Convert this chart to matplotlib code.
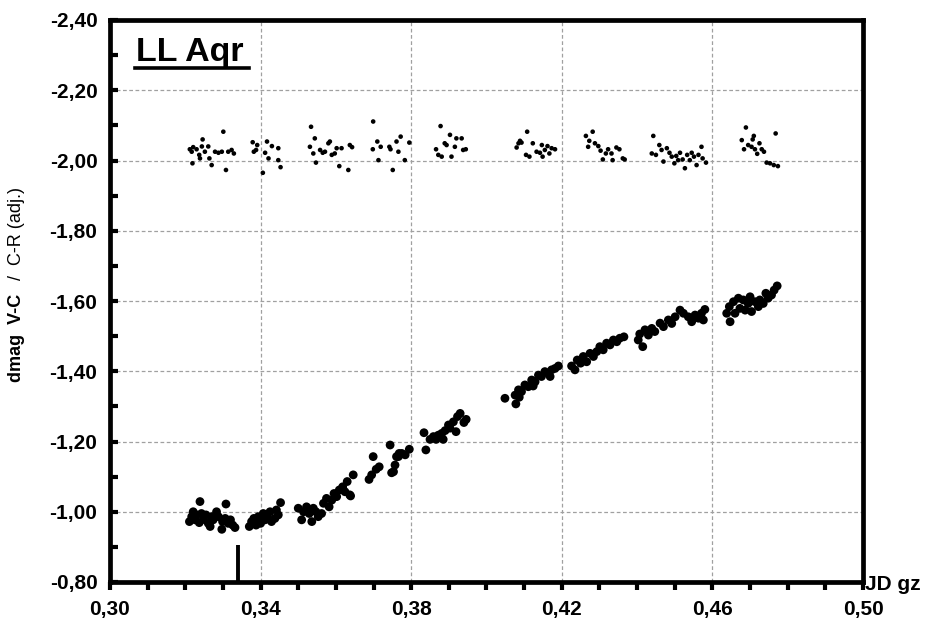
import matplotlib
matplotlib.use("Agg")
import matplotlib.pyplot as plt
from matplotlib.ticker import MultipleLocator, FixedLocator, FuncFormatter
from matplotlib.lines import Line2D

# V-C (large dots)
vc_x = [0.3239, 0.3211, 0.3217, 0.3221, 0.3226, 0.3230, 0.3237, 0.3243, 0.3248, 0.3255,
        0.3261, 0.3266, 0.3270, 0.3274, 0.3283, 0.3288, 0.3297, 0.3299, 0.3308, 0.3306,
        0.3314, 0.3320, 0.3326, 0.3332,
        0.3370, 0.3376, 0.3382, 0.3388, 0.3394, 0.3400, 0.3407, 0.3412, 0.3418, 0.3425,
        0.3429, 0.3438, 0.3442, 0.3447, 0.3453,
        0.3500, 0.3509, 0.3514, 0.3522, 0.3529, 0.3536, 0.3540, 0.3547, 0.3553, 0.3562,
        0.3567, 0.3575, 0.3582, 0.3589, 0.3595, 0.3602, 0.3609, 0.3618, 0.3624, 0.3630,
        0.3637, 0.3639, 0.3646,
        0.3688, 0.3695, 0.3699, 0.3707, 0.3715, 0.3744, 0.3748, 0.3753, 0.3757, 0.3761,
        0.3766, 0.3768, 0.3775, 0.3784, 0.3795,
        0.3834, 0.3839, 0.3850, 0.3859, 0.3866, 0.3872, 0.3881, 0.3885, 0.3890, 0.3899,
        0.3903, 0.3912, 0.3919, 0.3923, 0.3930, 0.3940, 0.3946,
        0.4049, 0.4078, 0.4076, 0.4085, 0.4087, 0.4093, 0.4102, 0.4111, 0.4120, 0.4124,
        0.4129, 0.4138, 0.4146, 0.4155, 0.4164, 0.4169, 0.4173, 0.4182, 0.4191,
        0.4226, 0.4235, 0.4241, 0.4250, 0.4257, 0.4266, 0.4275, 0.4284, 0.4293, 0.4301,
        0.4310, 0.4319, 0.4328, 0.4337, 0.4346, 0.4354, 0.4365,
        0.4403, 0.4407, 0.4415, 0.4421, 0.4430, 0.4439, 0.4447, 0.4461, 0.4470, 0.4483,
        0.4492, 0.4501, 0.4514, 0.4523, 0.4536, 0.4545, 0.4554, 0.4563, 0.4571, 0.4576,
        0.4580,
        0.4638, 0.4647, 0.4645, 0.4656, 0.4660, 0.4669, 0.4673, 0.4682, 0.4687, 0.4695,
        0.4700, 0.4704, 0.4713, 0.4722, 0.4726, 0.4735, 0.4742, 0.4748, 0.4757, 0.4764,
        0.4772]
vc_y = [-1.029, -0.972, -0.986, -1.000, -0.977, -0.991, -0.969, -0.995, -0.978, -0.991,
        -0.967, -0.958, -0.986, -0.977, -1.000, -0.986, -0.950, -0.972, -1.022, -0.981,
        -0.967, -0.977, -0.962, -0.955,
        -0.958, -0.972, -0.981, -0.962, -0.986, -0.967, -0.995, -0.977, -0.986, -1.000,
        -0.972, -0.981, -1.005, -0.991, -1.026,
        -1.010, -0.977, -1.000, -1.014, -0.995, -0.972, -1.010, -1.000, -0.986, -0.995,
        -1.024, -1.038, -1.014, -1.033, -1.052, -1.043, -1.062, -1.071, -1.057, -1.086,
        -1.048, -1.045, -1.105,
        -1.092, -1.105, -1.157, -1.121, -1.128, -1.190, -1.111, -1.114, -1.133, -1.157,
        -1.157, -1.166, -1.166, -1.162, -1.178,
        -1.225, -1.176, -1.206, -1.214, -1.206, -1.218, -1.223, -1.206, -1.231, -1.247,
        -1.238, -1.256, -1.228, -1.271, -1.280, -1.254, -1.263,
        -1.323, -1.307, -1.332, -1.347, -1.326, -1.342, -1.361, -1.356, -1.375, -1.358,
        -1.370, -1.389, -1.385, -1.399, -1.394, -1.385, -1.404, -1.408, -1.415,
        -1.415, -1.404, -1.432, -1.423, -1.442, -1.427, -1.451, -1.442, -1.456, -1.470,
        -1.461, -1.480, -1.475, -1.489, -1.484, -1.494, -1.498,
        -1.489, -1.506, -1.470, -1.518, -1.503, -1.522, -1.513, -1.537, -1.527, -1.546,
        -1.536, -1.555, -1.574, -1.565, -1.555, -1.541, -1.560, -1.551, -1.565, -1.546,
        -1.576,
        -1.565, -1.541, -1.584, -1.598, -1.565, -1.608, -1.579, -1.603, -1.574, -1.593,
        -1.612, -1.570, -1.598, -1.584, -1.603, -1.593, -1.622, -1.608, -1.617, -1.631,
        -1.643]

# C-R (small dots)
cr_x = [0.3212, 0.3217, 0.3221, 0.3219, 0.3230, 0.3237, 0.3239, 0.3244, 0.3246, 0.3252,
        0.3261, 0.3264, 0.3270, 0.3279, 0.3288, 0.3297, 0.3301, 0.3308, 0.3314, 0.3323,
        0.3329,
        0.3379, 0.3382, 0.3388, 0.3391, 0.3406, 0.3412, 0.3417, 0.3421, 0.3430, 0.3447,
        0.3447, 0.3453,
        0.3534, 0.3531, 0.3540, 0.3544, 0.3547, 0.3558, 0.3565, 0.3571, 0.3580, 0.3584,
        0.3589, 0.3597, 0.3602, 0.3609, 0.3615, 0.3633, 0.3637, 0.3643,
        0.3699, 0.3698, 0.3710, 0.3713, 0.3719, 0.3742, 0.3745, 0.3751, 0.3761, 0.3766,
        0.3772, 0.3783, 0.3795,
        0.3878, 0.3866, 0.3872, 0.3881, 0.3889, 0.3894, 0.3903, 0.3907, 0.3916, 0.3920,
        0.3934, 0.3938, 0.3945,
        0.4080, 0.4085, 0.4089, 0.4093, 0.4108, 0.4105, 0.4114, 0.4123, 0.4133, 0.4142,
        0.4147, 0.4149, 0.4155, 0.4162, 0.4167, 0.4173, 0.4182,
        0.4264, 0.4282, 0.4273, 0.4270, 0.4288, 0.4297, 0.4303, 0.4309, 0.4317, 0.4323,
        0.4332, 0.4335, 0.4345, 0.4353, 0.4362, 0.4367,
        0.4443, 0.4439, 0.4450, 0.4459, 0.4465, 0.4470, 0.4479, 0.4486, 0.4492, 0.4499,
        0.4504, 0.4509, 0.4514, 0.4521, 0.4527, 0.4533, 0.4540, 0.4545, 0.4551, 0.4558,
        0.4563, 0.4571, 0.4574, 0.4583,
        0.4689, 0.4678, 0.4684, 0.4695, 0.4707, 0.4710, 0.4704, 0.4713, 0.4719, 0.4725,
        0.4731, 0.4737, 0.4744, 0.4753, 0.4763, 0.4768, 0.4774]
cr_y = [-2.032, -2.025, -2.038, -1.992, -2.032, -2.016, -2.006, -2.040, -2.060, -2.025,
        -2.040, -2.006, -1.987, -2.025, -2.022, -2.025, -2.082, -1.973, -2.025, -2.030,
        -2.020,
        -2.052, -2.025, -2.030, -2.044, -1.965, -2.022, -2.054, -2.006, -2.041, -2.035,
        -2.001, -1.981,
        -2.096, -2.039, -2.020, -2.063, -1.994, -2.030, -2.022, -2.025, -2.049, -2.054,
        -2.016, -2.020, -2.035, -1.984, -2.035, -1.973, -2.044, -2.038,
        -2.111, -2.032, -2.054, -2.001, -2.039, -2.039, -2.032, -1.973, -2.054, -2.025,
        -2.068, -2.001, -2.051,
        -2.098, -2.032, -2.016, -2.011, -2.049, -2.044, -2.073, -2.011, -2.039, -2.063,
        -2.063, -2.030, -2.032,
        -2.037, -2.049, -2.056, -2.051, -2.082, -2.016, -2.011, -2.049, -2.025, -2.022,
        -2.044, -2.011, -2.030, -2.041, -2.020, -2.035, -2.032,
        -2.070, -2.082, -2.056, -2.039, -2.049, -2.041, -2.028, -2.003, -2.020, -2.032,
        -2.020, -2.001, -2.037, -2.032, -2.006, -2.003,
        -2.070, -2.020, -2.016, -2.044, -2.030, -1.997, -2.035, -2.022, -2.011, -1.992,
        -2.013, -2.001, -2.022, -2.003, -1.978, -2.016, -2.001, -2.022, -2.011, -1.987,
        -2.016, -2.039, -2.006, -1.994,
        -2.094, -2.058, -2.032, -2.044, -2.060, -2.070, -2.039, -2.032, -2.019, -2.049,
        -2.032, -2.025, -1.994, -1.992, -1.987, -2.077, -1.984]

# marker line (epoch)
mark_x = [0.3339, 0.3339]
mark_y = [-0.80, -0.905]

x_ticks = [0.30, 0.34, 0.38, 0.42, 0.46, 0.50]
y_ticks = [-2.40, -2.20, -2.00, -1.80, -1.60, -1.40, -1.20, -1.00, -0.80]

FAM = ['Liberation Sans', 'DejaVu Sans']

fig = plt.figure(figsize=(9.25, 6.29), dpi=100)
ax = fig.add_axes([110/925, 1-582/629, (863-110)/925, (582-20)/629])

ax.set_xlim(0.30, 0.50)
ax.set_ylim(-0.80, -2.40)

ax.grid(False)
for xv in x_ticks[1:-1]:
    ax.axvline(xv, color='#a0a0a0', lw=0.9, ls=(0, (3, 2)), zorder=0)
for yv in y_ticks[1:-1]:
    ax.axhline(yv, color='#a0a0a0', lw=0.9, ls=(0, (3, 2)), zorder=0)

ax.scatter(cr_x, cr_y, s=11, color='black', edgecolors='none', zorder=3)
ax.scatter(vc_x, vc_y, s=40, color='black', edgecolors='none', zorder=3)
ax.plot(mark_x, mark_y, color='black', lw=2.8, solid_capstyle='butt', zorder=3)

for sp in ax.spines.values():
    sp.set_linewidth(3.4)
    sp.set_color('black')

fmt = FuncFormatter(lambda v, p: f"{v:.2f}".replace('.', ','))
ax.xaxis.set_major_locator(FixedLocator(x_ticks))
ax.xaxis.set_minor_locator(MultipleLocator(0.01))
ax.yaxis.set_major_locator(FixedLocator(y_ticks))
ax.yaxis.set_minor_locator(MultipleLocator(0.1))
ax.xaxis.set_major_formatter(fmt)
ax.yaxis.set_major_formatter(fmt)

ax.tick_params(axis='x', which='both', direction='out', length=6, width=3, color='black',
               labelsize=15, pad=7)
ax.tick_params(axis='y', which='both', direction='in', length=6, width=3, color='black',
               labelsize=15, pad=9)
for lab in ax.get_xticklabels() + ax.get_yticklabels():
    lab.set_fontweight('bold')
    lab.set_family(FAM)

# Title inside plot, underlined
ax.text(136/925, 1-61/629, "LL Aqr", transform=fig.transFigure, fontsize=24.5,
        fontweight='bold', family=FAM, ha='left', va='baseline')
fig.add_artist(Line2D([135/925, 249/925], [1-68/629, 1-68/629], color='black', lw=2.6,
                      transform=fig.transFigure))

# Y label in two parts
fig.text(17/925, 1-338/629, "dmag  V-C", rotation=90, fontsize=13, fontweight='bold',
         family=FAM, ha='center', va='center')
fig.text(17/925, 1-234/629, "/  C-R (adj.)", rotation=90, fontsize=13,
         family=FAM, ha='center', va='center')

# X label at right end
fig.text(865/925, 1-585/629, "JD gz", fontsize=15, fontweight='bold',
         family=FAM, ha='left', va='center')

fig.savefig("out.png", dpi=100, facecolor='white')
